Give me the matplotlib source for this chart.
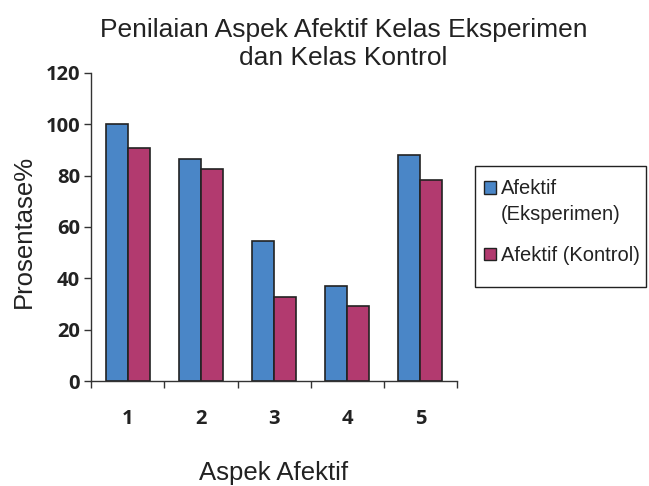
import numpy as np
import matplotlib.pyplot as plt
from matplotlib.patches import Rectangle

aspek = ["1", "2", "3", "4", "5"]
eksperimen = [100, 86.4, 54.6, 37.1, 88.1]
kontrol = [90.7, 82.6, 32.8, 29.1, 78.4]
y_ticks = [0, 20, 40, 60, 80, 100, 120]

blue = "#4a86c7"
red = "#b23a6f"
edge = "#222222"

W, H = 649, 486
fig = plt.figure(figsize=(W / 100, H / 100), dpi=100)
ax = fig.add_axes([0.1407, 0.216, 0.5634, 0.634])

x = np.arange(len(aspek))
w = 0.3
b1 = ax.bar(x - w / 2, eksperimen, w, color=blue, edgecolor=edge, linewidth=1.2)
b2 = ax.bar(x + w / 2, kontrol, w, color=red, edgecolor=edge, linewidth=1.2)

ax.set_xlim(-0.5, len(aspek) - 0.5)
ax.set_ylim(0, 120)
ax.set_yticks(y_ticks)
ax.set_xticks(x)
ax.set_xticklabels(aspek)
ax.set_xticks(np.arange(-0.5, len(aspek)), minor=True)
ax.tick_params(axis="x", which="major", length=0, pad=20)
ax.tick_params(axis="x", which="minor", length=5, width=1, color="#333333", direction="out")
ax.tick_params(axis="y", length=5, width=1, color="#333333", direction="out", pad=3)

for lab in ax.get_xticklabels() + ax.get_yticklabels():
    lab.set_fontfamily("Open Sans")
    lab.set_fontweight("bold")
    lab.set_fontsize(14.5)
    lab.set_color("#222222")

for s in ["top", "right"]:
    ax.spines[s].set_visible(False)
for s in ["left", "bottom"]:
    ax.spines[s].set_color("#333333")
    ax.spines[s].set_linewidth(1.0)

fig.text(0.529, 1 - 44 / H, "Penilaian Aspek Afektif Kelas Eksperimen\ndan Kelas Kontrol",
         ha="center", va="center", fontsize=19, family="Liberation Sans",
         color="#222222", linespacing=1.22)
fig.text(0.422, 1 - 473 / H, "Aspek Afektif", ha="center", va="center",
         fontsize=18.5, family="Liberation Sans", color="#222222")
fig.text(24 / W, 1 - 231 / H, "Prosentase%", ha="center", va="center",
         rotation=90, fontsize=18.5, family="Liberation Sans", color="#222222")

# legend drawn by hand so the marker sits on the first text line
fig.patches.append(Rectangle((475 / W, 1 - 287 / H), 171 / W, 121 / H,
                             transform=fig.transFigure, fill=False,
                             edgecolor="#222222", linewidth=1.0))
legend_items = [
    (blue, ["Afektif", "(Eksperimen)"], 194),
    (red, ["Afektif (Kontrol)"], 260.7),
]
for color, lines, base in legend_items:
    fig.patches.append(Rectangle((483.7 / W, 1 - (base - 0.3) / H), 12.6 / W, 12.6 / H,
                                 transform=fig.transFigure, facecolor=color,
                                 edgecolor=edge, linewidth=1.0))
    for i, line in enumerate(lines):
        fig.text(501 / W, 1 - (base + i * 25.5) / H, line, ha="left", va="baseline",
                 fontsize=14.5, family="Liberation Sans", color="#222222")

fig.savefig("out.png", dpi=100)
